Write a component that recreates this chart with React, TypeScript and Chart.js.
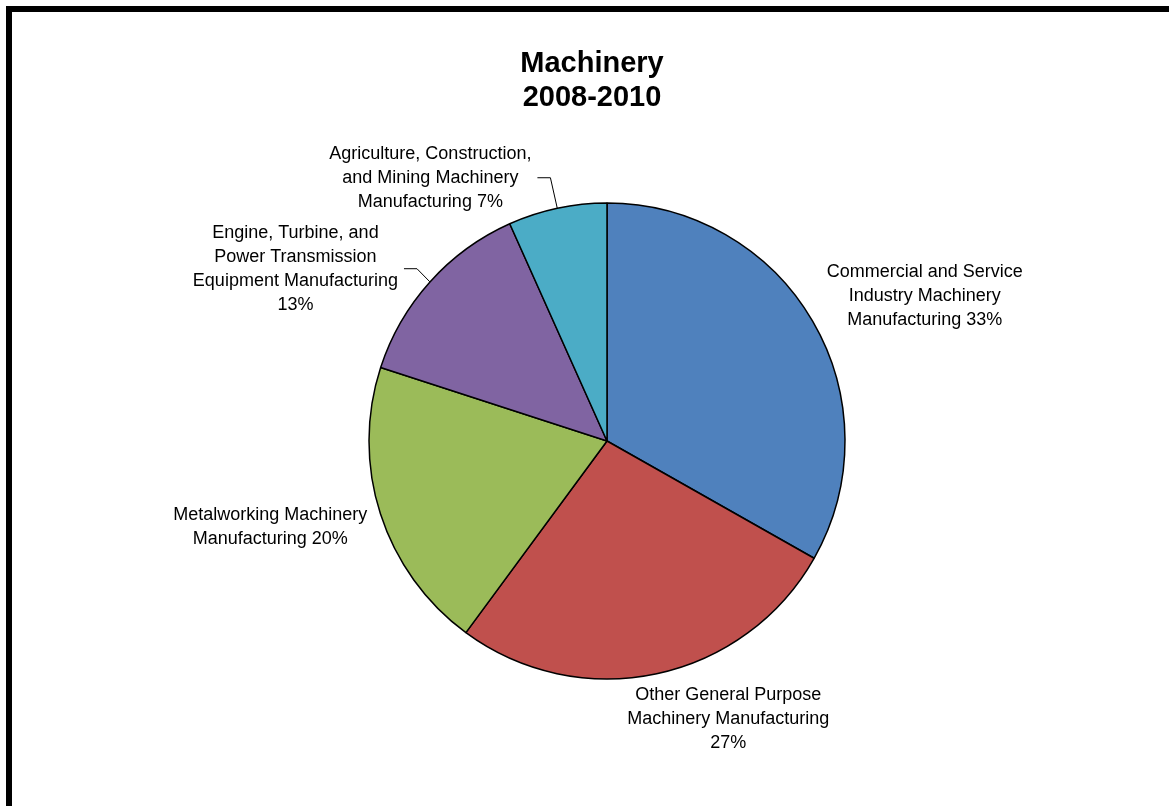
import React, { useEffect, useRef } from "react";
import { Chart, registerables } from "chart.js";

Chart.register(...registerables);

const titleLines = ["Machinery", "2008-2010"];

const categories = [
  "Commercial and Service Industry Machinery Manufacturing",
  "Other General Purpose Machinery Manufacturing",
  "Metalworking Machinery Manufacturing",
  "Engine, Turbine, and Power Transmission Equipment Manufacturing",
  "Agriculture, Construction, and Mining Machinery Manufacturing",
];

const values = [33.2, 26.9, 19.9, 13.3, 6.7];

// wrapped label text; the percentage is appended to the last line
const labelLines = [
  ["Commercial and Service", "Industry Machinery", "Manufacturing "],
  ["Other General Purpose", "Machinery Manufacturing", ""],
  ["Metalworking Machinery", "Manufacturing "],
  ["Engine, Turbine, and", "Power Transmission", "Equipment Manufacturing", ""],
  ["Agriculture, Construction,", "and Mining Machinery", "Manufacturing "],
];

const colors = ["#4F81BD", "#C0504D", "#9BBB59", "#8064A2", "#4BACC6"];

// label placement relative to slice mid-angle (degrees) and distance (in radii)
const labelPlacement = [
  { angle: 5.7, dist: 1.468, leader: false },
  { angle: -11.5, dist: 1.275, leader: false },
  { angle: 3.5, dist: 1.46, leader: false },
  { angle: -13.0, dist: 1.496, leader: true },
  { angle: -21.8, dist: 1.332, leader: true },
];

const FONT = "'Liberation Sans', Arial, sans-serif";

const labelPlugin = {
  id: "sliceLabels",
  afterDatasetsDraw(chart: any) {
    const ctx = chart.ctx as CanvasRenderingContext2D;
    const meta = chart.getDatasetMeta(0);
    const total = values.reduce((a, b) => a + b, 0);
    ctx.save();
    ctx.fillStyle = "#000";
    ctx.strokeStyle = "#000";
    ctx.lineWidth = 1;
    ctx.textAlign = "center";
    ctx.textBaseline = "middle";
    ctx.font = `18px ${FONT}`;
    let cxPie = 0;
    meta.data.forEach((arc: any, i: number) => {
      const { x, y, startAngle, endAngle, outerRadius } = arc.getProps(
        ["x", "y", "startAngle", "endAngle", "outerRadius"],
        true
      );
      cxPie = x;
      const mid = (startAngle + endAngle) / 2;
      const pl = labelPlacement[i];
      const a = mid + (pl.angle * Math.PI) / 180;
      const cx = x + Math.cos(a) * pl.dist * outerRadius;
      const cy = y + Math.sin(a) * pl.dist * outerRadius;
      const pct = Math.round((values[i] / total) * 100) + "%";
      const lines = labelLines[i].map((l, j, arr) =>
        j === arr.length - 1 ? l + pct : l
      );
      const lh = 24;
      lines.forEach((l, j) =>
        ctx.fillText(l, cx, cy + (j - (lines.length - 1) / 2) * lh)
      );
      if (pl.leader) {
        const w = Math.max(...lines.map((l) => ctx.measureText(l).width));
        const right = cx + w / 2;
        ctx.beginPath();
        ctx.moveTo(right + 6, cy);
        ctx.lineTo(right + 19, cy);
        ctx.lineTo(
          x + Math.cos(mid) * outerRadius,
          y + Math.sin(mid) * outerRadius
        );
        ctx.stroke();
      }
    });
    // title
    ctx.font = `bold 29px ${FONT}`;
    const tx = cxPie - 15;
    titleLines.forEach((t, j) => ctx.fillText(t, tx, 64 + j * 34));
    ctx.restore();
  },
};

export default function App() {
  const ref = useRef<HTMLCanvasElement | null>(null);
  useEffect(() => {
    if (!ref.current) return;
    const chart = new Chart(ref.current, {
      type: "pie",
      data: {
        labels: categories,
        datasets: [
          {
            data: values,
            backgroundColor: colors,
            borderColor: "#000",
            borderWidth: 1.5,
          },
        ],
      },
      options: {
        responsive: false,
        animation: false,
        devicePixelRatio: 1,
        radius: 238,
        layout: { padding: { left: 357, right: 312, top: 191, bottom: 115 } },
        plugins: {
          legend: { display: false },
          tooltip: { enabled: false },
          title: { display: false },
        },
      } as any,
      plugins: [labelPlugin],
    });
    return () => chart.destroy();
  }, []);
  return (
    <div
      style={{
        position: "absolute",
        left: 0,
        top: 0,
        width: 1169,
        height: 806,
        overflow: "hidden",
        background: "#fff",
      }}
    >
      <div
        style={{
          position: "absolute",
          left: 6,
          top: 6,
          width: 1163,
          height: 800,
          boxSizing: "border-box",
          borderTop: "6px solid #000",
          borderLeft: "6px solid #000",
        }}
      />
      <canvas
        ref={ref}
        width={1169}
        height={806}
        style={{ position: "absolute", left: 0, top: 0, width: 1169, height: 806 }}
      />
    </div>
  );
}
